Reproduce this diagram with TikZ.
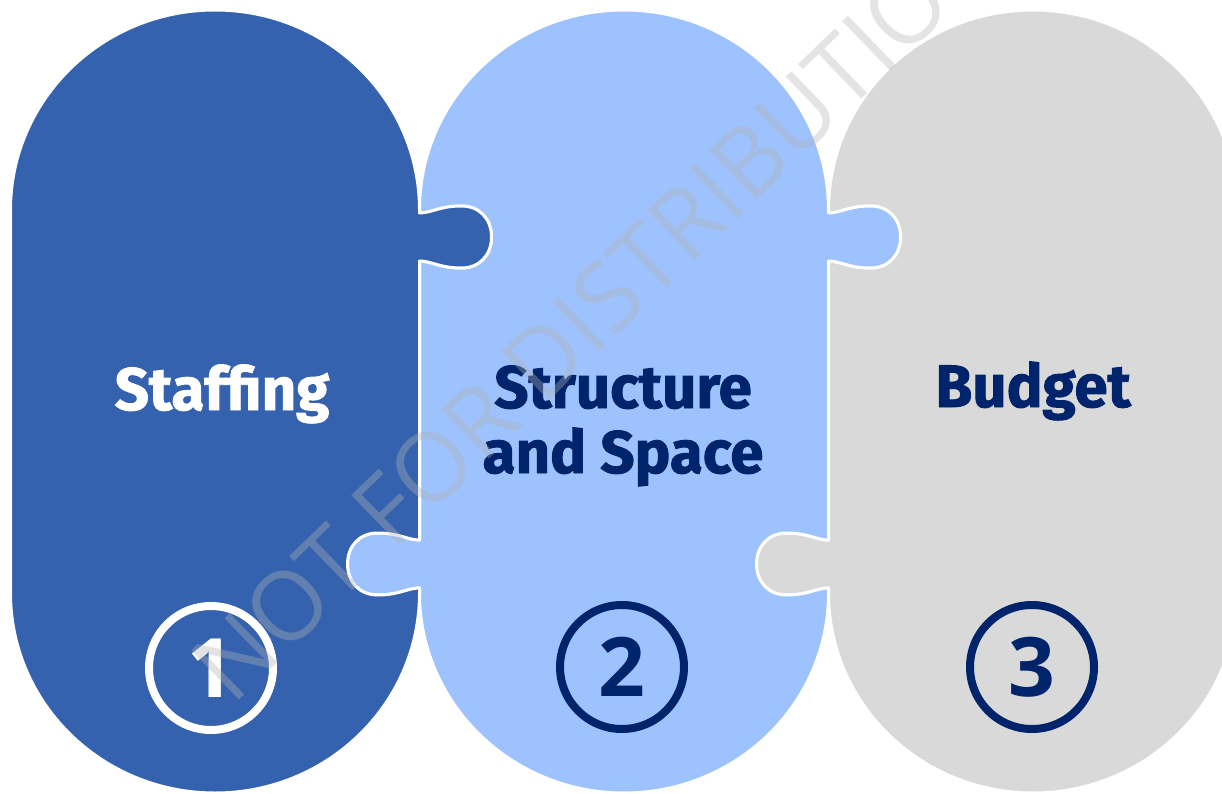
\documentclass[tikz,border=0pt]{standalone}
\usepackage{fontspec}
\setmainfont{Fira Sans}[BoldFeatures={FakeBold=1.5}]
\newfontfamily\numfont{Open Sans}
\definecolor{staffblue}{RGB}{52,98,174}
\definecolor{spaceblue}{RGB}{157,194,253}
\definecolor{budgetgray}{RGB}{217,217,217}
\definecolor{textnavy}{RGB}{0,36,107}
\definecolor{markgray}{RGB}{179,179,179}
% knob on an edge at x=#1, centred at y=#2, #3=1 bulges right, -1 left
\newcommand{\knobdown}[3]{-- (#1,#2-24)
  .. controls ({#1+(#3)*12},#2-24) and ({#1+(#3)*20},#2-31) .. ({#1+(#3)*42},#2-31)
  .. controls ({#1+(#3)*60},#2-31) and ({#1+(#3)*72},#2-18) .. ({#1+(#3)*72},#2)
  .. controls ({#1+(#3)*72},#2+18) and ({#1+(#3)*60},#2+31) .. ({#1+(#3)*42},#2+31)
  .. controls ({#1+(#3)*20},#2+31) and ({#1+(#3)*12},#2+24) .. (#1,#2+24)}
\newcommand{\knobup}[3]{-- (#1,#2+24)
  .. controls ({#1+(#3)*12},#2+24) and ({#1+(#3)*20},#2+31) .. ({#1+(#3)*42},#2+31)
  .. controls ({#1+(#3)*60},#2+31) and ({#1+(#3)*72},#2+18) .. ({#1+(#3)*72},#2)
  .. controls ({#1+(#3)*72},#2-18) and ({#1+(#3)*60},#2-31) .. ({#1+(#3)*42},#2-31)
  .. controls ({#1+(#3)*20},#2-31) and ({#1+(#3)*12},#2-24) .. (#1,#2-24)}
\tikzset{
  piece/.style={draw=white,line width=3pt,line join=round},
  title/.style={anchor=base,font=\fontsize{60}{66}\selectfont\bfseries},
  numring/.style={circle,draw,line width=8pt,minimum size=124pt,inner sep=0pt,
    font=\numfont\bfseries\fontsize{82}{82}\selectfont},
  wmark/.style={rotate=44,text=markgray,text opacity=0.36,
    font=\numfont\fontsize{96}{96}\selectfont}
}
\begin{document}
\begin{tikzpicture}[x=1pt,y=1pt,yscale=-1]
  \useasboundingbox (0,0) rectangle (1222,794);
  % the three pieces
  \path[piece,fill=budgetgray] (828.5,210) arc[start angle=180,end angle=360,x radius=204.5,y radius=200]
    -- (1237.5,593) arc[start angle=0,end angle=180,x radius=204.5,y radius=200]
    \knobup{828.5}{564}{-1} \knobup{828.5}{237}{1} -- cycle;
  \path[piece,fill=spaceblue] (419.5,210) arc[start angle=180,end angle=360,x radius=204.5,y radius=200]
    \knobdown{828.5}{237}{1} \knobdown{828.5}{564}{-1}
    -- (828.5,593) arc[start angle=0,end angle=180,x radius=204.5,y radius=200]
    \knobup{419.5}{564}{-1} \knobup{419.5}{237}{1} -- cycle;
  \path[piece,fill=staffblue] (10.5,210) arc[start angle=180,end angle=360,x radius=204.5,y radius=200]
    \knobdown{419.5}{237}{1} \knobdown{419.5}{564}{-1}
    -- (419.5,593) arc[start angle=0,end angle=180,x radius=204.5,y radius=200] -- cycle;
  % titles
  \node[title,white] (staffing) at (222,410) {Staffing};
  \node[title,textnavy] (structure) at (623,408) {Structure};
  \node[title,textnavy] (andspace) at (623,473) {and Space};
  \node[title,textnavy] (budget) at (1033,407) {Budget};
  % numbers
  \node[numring,white] (one) at (211,668) {1};
  \node[numring,textnavy] (two) at (622,667) {2};
  \node[numring,textnavy] (three) at (1032,667) {3};
  \node[wmark] (notice) at (597,307) {NOT FOR DISTRIBUTION};
\end{tikzpicture}
\end{document}
